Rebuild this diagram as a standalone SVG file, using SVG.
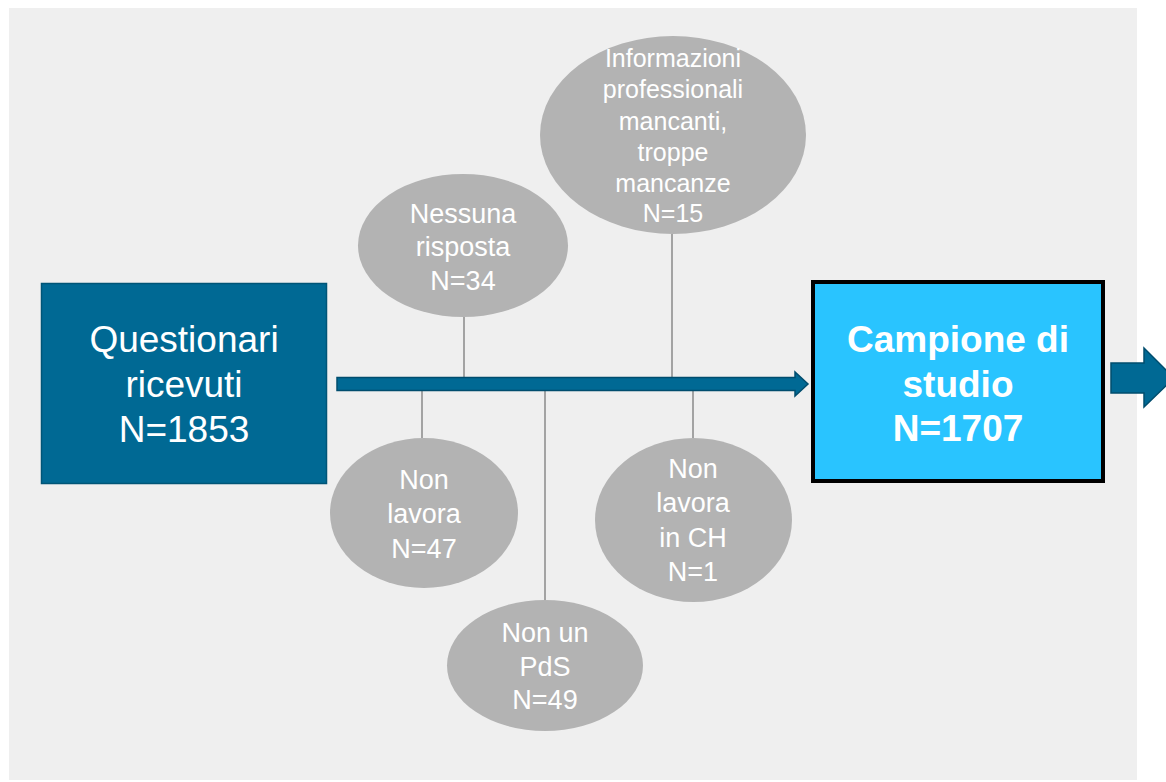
<svg xmlns="http://www.w3.org/2000/svg" width="1166" height="782" viewBox="0 0 1166 782">
<style>
.bg{fill:#efefef}
.ell{fill:#b3b3b3}
.et{font-family:"Liberation Sans",Arial,sans-serif;font-size:27px;fill:#ffffff;text-anchor:middle}
.et2{font-family:"Liberation Sans",Arial,sans-serif;font-size:25px;fill:#ffffff;text-anchor:middle}
.lt{font-family:"Liberation Sans",Arial,sans-serif;font-size:37px;fill:#ffffff;text-anchor:middle}
.rt{font-family:"Liberation Sans",Arial,sans-serif;font-size:37px;font-weight:bold;fill:#ffffff;text-anchor:middle}
.ln{stroke:#8a8a8a;stroke-width:1.5;fill:none}
.arr{fill:#006994;stroke:#004d6e;stroke-width:1.5}
</style>
<rect class="bg" x="9" y="8" width="1128" height="772"/>
<g id="connectors">
<line class="ln" x1="464" y1="317" x2="464" y2="378"/>
<line class="ln" x1="672" y1="234" x2="672" y2="378"/>
<line class="ln" x1="422" y1="390" x2="422" y2="438"/>
<line class="ln" x1="545" y1="390" x2="545" y2="600"/>
<line class="ln" x1="693" y1="390" x2="693" y2="438"/>
<polygon class="arr" points="337,377.5 795,377.5 795,372 808,384 795,396 795,390.5 337,390.5"/>
<polygon class="arr" points="1111,363 1144,363 1144,348 1174,378 1144,407 1144,393 1111,393"/>
</g>
<g id="questionari">
<rect x="41.5" y="283.5" width="285" height="200" fill="#006994" stroke="#005577" stroke-width="1.5"/>
<text class="lt" x="184" y="352">Questionari</text>
<text class="lt" x="184" y="397">ricevuti</text>
<text class="lt" x="184" y="442">N=1853</text>
</g>
<g id="campione">
<rect x="813" y="282" width="290" height="199" fill="#29c4ff" stroke="#000000" stroke-width="4"/>
<text class="rt" x="958" y="352">Campione di</text>
<text class="rt" x="958" y="397">studio</text>
<text class="rt" x="958" y="441">N=1707</text>
</g>
<g id="nessuna">
<ellipse class="ell" cx="463" cy="245.5" rx="105" ry="71.5"/>
<text class="et" x="463" y="223">Nessuna</text>
<text class="et" x="463" y="256">risposta</text>
<text class="et" x="463" y="290">N=34</text>
</g>
<g id="informazioni">
<ellipse class="ell" cx="673" cy="135" rx="133" ry="99"/>
<text class="et2" x="673" y="67">Informazioni</text>
<text class="et2" x="673" y="98">professionali</text>
<text class="et2" x="673" y="130">mancanti,</text>
<text class="et2" x="673" y="161">troppe</text>
<text class="et2" x="673" y="192">mancanze</text>
<text class="et2" x="673" y="222">N=15</text>
</g>
<g id="nonlavora">
<ellipse class="ell" cx="424" cy="513" rx="94" ry="75"/>
<text class="et" x="424" y="489">Non</text>
<text class="et" x="424" y="523">lavora</text>
<text class="et" x="424" y="558">N=47</text>
</g>
<g id="nonpds">
<ellipse class="ell" cx="545" cy="665.5" rx="98" ry="65.5"/>
<text class="et" x="545" y="642">Non un</text>
<text class="et" x="545" y="676">PdS</text>
<text class="et" x="545" y="709">N=49</text>
</g>
<g id="nonch">
<ellipse class="ell" cx="693.5" cy="520" rx="98.5" ry="82"/>
<text class="et" x="693" y="478">Non</text>
<text class="et" x="693" y="512">lavora</text>
<text class="et" x="693" y="547">in CH</text>
<text class="et" x="693" y="581">N=1</text>
</g>
</svg>
